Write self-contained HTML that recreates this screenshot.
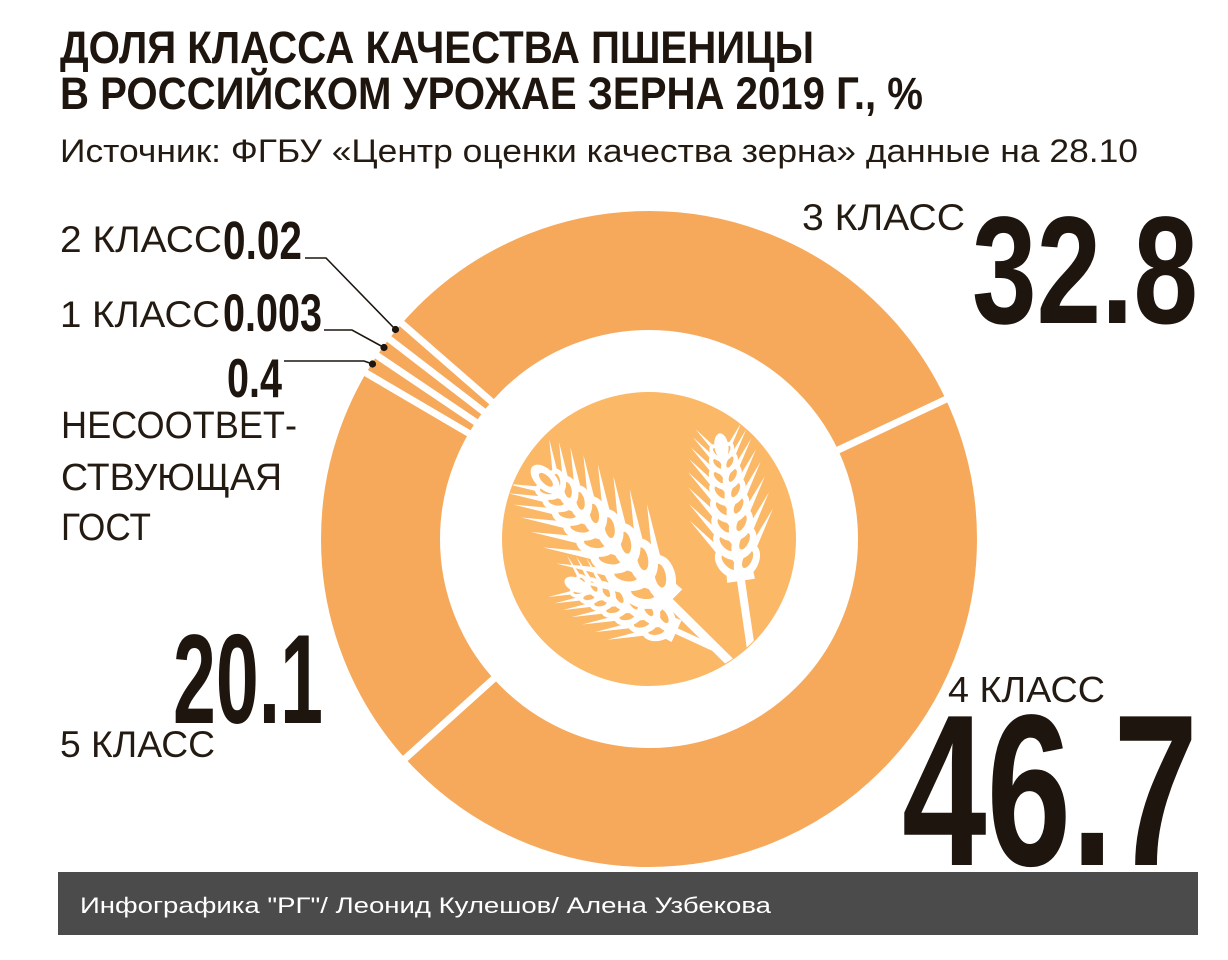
<!DOCTYPE html>
<html>
<head>
<meta charset="utf-8">
<style>
  html,body{margin:0;padding:0;background:#fff;}
  body{width:1228px;height:960px;overflow:hidden;}
  svg{display:block;}
  .b{font-family:"Liberation Sans","DejaVu Sans",sans-serif;font-weight:bold;fill:#1d150e;}
  .l{font-family:"Liberation Sans","DejaVu Sans",sans-serif;font-weight:normal;fill:#231a12;}
</style>
</head>
<body>
<svg width="1228" height="960" viewBox="0 0 1228 960" xmlns="http://www.w3.org/2000/svg">
  <defs>
    <g id="gh" transform="rotate(-34)">
      <ellipse cx="20" cy="0" rx="23" ry="15" fill="#fff"/>
      <ellipse cx="22" cy="0" rx="12" ry="5.5" fill="#FBB867"/>
      <polygon points="38,-4 95,-1 38,4.5" fill="#fff"/>
    </g>
    <g id="gp">
      <use href="#gh"/>
      <use href="#gh" transform="scale(1,-1)"/>
    </g>
    <clipPath id="cc"><circle cx="649" cy="539" r="146"/></clipPath>
  </defs>

  <rect x="0" y="0" width="1228" height="960" fill="#fff"/>

  <!-- Title -->
  <text class="b" x="60" y="63" font-size="45" textLength="754" lengthAdjust="spacingAndGlyphs">ДОЛЯ КЛАССА КАЧЕСТВА ПШЕНИЦЫ</text>
  <text class="b" x="60" y="109" font-size="45" textLength="863" lengthAdjust="spacingAndGlyphs">В РОССИЙСКОМ УРОЖАЕ ЗЕРНА 2019 Г., %</text>
  <text class="l" x="60" y="162" font-size="32" textLength="1078" lengthAdjust="spacingAndGlyphs">Источник: ФГБУ «Центр оценки качества зерна» данные на 28.10</text>

  <!-- Donut ring -->
  <circle cx="649" cy="539" r="268.5" fill="none" stroke="#F6A95B" stroke-width="119"/>
  <!-- gaps -->
  <g stroke="#fff" stroke-width="7" transform="translate(649,539)">
    <line x1="0" y1="-190" x2="0" y2="-345" transform="rotate(64.8)"/>
    <line x1="0" y1="-190" x2="0" y2="-345" transform="rotate(228)"/>
    <line x1="0" y1="-190" x2="0" y2="-345" transform="rotate(300.4)"/>
    <line x1="0" y1="-190" x2="0" y2="-345" transform="rotate(304.0)"/>
    <line x1="0" y1="-190" x2="0" y2="-345" transform="rotate(307.6)"/>
    <line x1="0" y1="-190" x2="0" y2="-345" transform="rotate(311.1)"/>
  </g>

  <!-- Inner circle -->
  <circle cx="649" cy="539" r="147" fill="#FBB867"/>

  <!-- Wheat -->
  <g clip-path="url(#cc)">
    <!-- small lower ear -->
    <g transform="translate(722,652) rotate(-155.3)">
      <line x1="0" y1="0" x2="155" y2="0" stroke="#fff" stroke-width="6"/>
      <polygon points="50,-12 160,-5 160,5 50,12" fill="#fff"/>
      <use href="#gp" transform="translate(56,0) scale(0.68)"/>
      <use href="#gp" transform="translate(73,0) scale(0.65)"/>
      <use href="#gp" transform="translate(90,0) scale(0.62)"/>
      <use href="#gp" transform="translate(106,0) scale(0.58)"/>
      <use href="#gp" transform="translate(121,0) scale(0.53)"/>
      <use href="#gp" transform="translate(135,0) scale(0.48)"/>
      <use href="#gp" transform="translate(148,0) scale(0.42)"/>
      <ellipse cx="161" cy="0" rx="12" ry="7" fill="#fff"/>
    </g>
    <!-- big ear -->
    <g transform="translate(730,662) rotate(-135.3)">
      <line x1="0" y1="0" x2="250" y2="0" stroke="#fff" stroke-width="9"/>
      <polygon points="85,-18 255,-7 255,7 85,18" fill="#fff"/>
      <use href="#gp" transform="translate(92,0) scale(1.0)"/>
      <use href="#gp" transform="translate(117,0) scale(0.97)"/>
      <use href="#gp" transform="translate(141,0) scale(0.93)"/>
      <use href="#gp" transform="translate(164,0) scale(0.88)"/>
      <use href="#gp" transform="translate(186,0) scale(0.82)"/>
      <use href="#gp" transform="translate(206,0) scale(0.75)"/>
      <use href="#gp" transform="translate(224,0) scale(0.67)"/>
      <use href="#gp" transform="translate(240,0) scale(0.58)"/>
      <ellipse cx="260" cy="0" rx="18" ry="10" fill="#fff"/>
      <ellipse cx="259" cy="0" rx="9" ry="4" fill="#FBB867"/>
    </g>
    <!-- right ear -->
    <g transform="translate(752,656) rotate(-98.3)">
      <line x1="0" y1="0" x2="205" y2="0" stroke="#fff" stroke-width="8"/>
      <polygon points="76,-14 210,-6 210,6 76,14" fill="#fff"/>
      <use href="#gp" transform="translate(82,0) scale(0.78)"/>
      <use href="#gp" transform="translate(101,0) scale(0.75)"/>
      <use href="#gp" transform="translate(120,0) scale(0.72)"/>
      <use href="#gp" transform="translate(138,0) scale(0.68)"/>
      <use href="#gp" transform="translate(155,0) scale(0.63)"/>
      <use href="#gp" transform="translate(171,0) scale(0.57)"/>
      <use href="#gp" transform="translate(186,0) scale(0.5)"/>
      <use href="#gp" transform="translate(199,0) scale(0.43)"/>
      <ellipse cx="212" cy="0" rx="13" ry="7" fill="#fff"/>
    </g>
  </g>

  <!-- Leader lines -->
  <g fill="none" stroke="#1d150e" stroke-width="1.6">
    <polyline points="305,258 326,258 395,329"/>
    <polyline points="324,330 352,330 384,347.5"/>
    <polyline points="284,361 364,361 372.5,364"/>
  </g>
  <g fill="#1d150e">
    <circle cx="395.5" cy="329.5" r="3.6"/>
    <circle cx="384" cy="347.5" r="3.6"/>
    <circle cx="372.5" cy="364" r="3.6"/>
  </g>

  <!-- Left labels -->
  <text class="l" x="60" y="252" font-size="37" textLength="162" lengthAdjust="spacingAndGlyphs">2 КЛАСС</text>
  <text class="b" x="223" y="259" font-size="54" textLength="79" lengthAdjust="spacingAndGlyphs">0.02</text>
  <text class="l" x="60" y="327" font-size="37" textLength="160" lengthAdjust="spacingAndGlyphs">1 КЛАСС</text>
  <text class="b" x="223" y="331" font-size="53" textLength="99" lengthAdjust="spacingAndGlyphs">0.003</text>
  <text class="b" x="227" y="397" font-size="55" textLength="55" lengthAdjust="spacingAndGlyphs">0.4</text>
  <text class="l" x="61" y="438" font-size="38" textLength="236" lengthAdjust="spacingAndGlyphs">НЕСООТВЕТ-</text>
  <text class="l" x="61" y="490" font-size="38" textLength="221" lengthAdjust="spacingAndGlyphs">СТВУЮЩАЯ</text>
  <text class="l" x="61" y="540" font-size="38" textLength="90" lengthAdjust="spacingAndGlyphs">ГОСТ</text>

  <text class="b" x="173" y="723" font-size="127" textLength="150" lengthAdjust="spacingAndGlyphs">20.1</text>
  <text class="l" x="60" y="757" font-size="37" textLength="155" lengthAdjust="spacingAndGlyphs">5 КЛАСС</text>

  <!-- Right labels -->
  <text class="l" x="802" y="230" font-size="37" textLength="163" lengthAdjust="spacingAndGlyphs">3 КЛАСС</text>
  <text class="b" x="972" y="323" font-size="153" textLength="226" lengthAdjust="spacingAndGlyphs">32.8</text>
  <text class="l" x="948" y="702" font-size="36" textLength="157" lengthAdjust="spacingAndGlyphs">4 КЛАСС</text>
  <text class="b" x="902" y="865" font-size="216" textLength="296" lengthAdjust="spacingAndGlyphs">46.7</text>

  <!-- Footer -->
  <rect x="58" y="872" width="1140" height="63" fill="#4b4b4b"/>
  <text x="80" y="913" font-family="'Liberation Sans','DejaVu Sans',sans-serif" font-size="22" fill="#fff" textLength="691" lengthAdjust="spacingAndGlyphs">Инфографика "РГ"/ Леонид Кулешов/ Алена Узбекова</text>
</svg>
</body>
</html>
